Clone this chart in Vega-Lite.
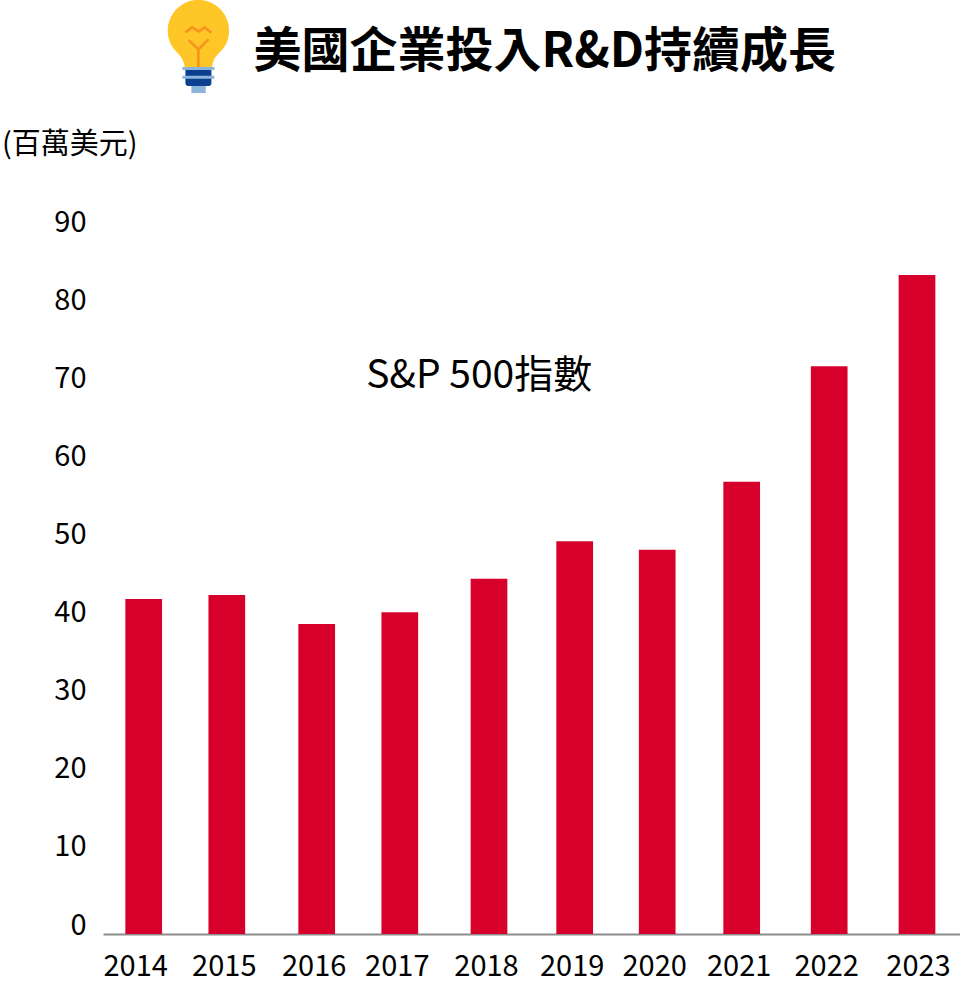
{
"$schema":"https://vega.github.io/schema/vega-lite/v6.json",
"width":857,"height":934,
"autosize":{"type":"none"},
"padding":{"left":103,"top":0,"right":0,"bottom":50},
"background":"white",
"config":{"view":{"stroke":null},"font":"Noto Sans CJK TC"},
"data":{"values":[
{"year":2014,"rd":42.9},{"year":2015,"rd":43.4},{"year":2016,"rd":39.7},{"year":2017,"rd":41.2},{"year":2018,"rd":45.5},{"year":2019,"rd":50.3},{"year":2020,"rd":49.2},{"year":2021,"rd":57.9},{"year":2022,"rd":72.7},{"year":2023,"rd":84.4}]},
"layer":[
{"mark":{"type":"bar","color":"#D7002A","size":36.7,"orient":"vertical"},
"encoding":{
"x":{"field":"year","type":"quantitative","title":null,
"scale":{"domain":[2013,2014,2015,2016,2017,2018,2019,2020,2021,2022,2023,2024],"range":[0,40.7,123.8,213.7,296.8,386,471.7,554.2,638.7,726.2,814,857],"nice":false,"zero":false},
"axis":{"values":[2014,2015,2016,2017,2018,2019,2020,2021,2022,2023],"format":"d","labelAngle":0,"labelFontSize":29,"labelColor":"#000000","labelFont":"Noto Sans CJK TC","labelPadding":18,"ticks":false,"domainColor":"#8c8c8c","domainWidth":2,"grid":false,"labelOverlap":false,"labelFlush":false,
"labelOffset":{"condition":[{"test":"datum.value==2014","value":-8.5},{"test":"datum.value==2023","value":1}],"value":-3}}},
"y":{"field":"rd","type":"quantitative",
"scale":{"domain":[0,119.6],"nice":false,"zero":true},
"axis":{"values":[0,10,20,30,40,50,60,70,80,90],"labelFontSize":29,"labelColor":"#000000","labelFont":"Noto Sans CJK TC","labelOffset":-9,"labelPadding":17,"ticks":false,"domain":false,"grid":false,
"title":"(百萬美元)","titleAngle":0,"titleAlign":"left","titleBaseline":"middle","titleX":-101.5,"titleY":144,"titleFontSize":29,"titleFontWeight":"normal","titleColor":"#000000","titleFont":"Noto Sans CJK TC"}}}},
{"data":{"values":[{"label":"S&P 500指數","year":2017.89,"rd":71.4}]},
"mark":{"type":"text","fontSize":39,"color":"#000000","align":"center","baseline":"middle"},
"encoding":{"x":{"field":"year","type":"quantitative"},"y":{"field":"rd","type":"quantitative"},"text":{"field":"label"}}},
{"data":{"values":[{"label":"美國企業投入R&D持續成長","year":2018.65,"rd":112.8}]},
"mark":{"type":"text","fontSize":48,"fontWeight":"bold","color":"#000000","align":"center","baseline":"middle"},
"encoding":{"x":{"field":"year","type":"quantitative"},"y":{"field":"rd","type":"quantitative"},"text":{"field":"label"}}},
{"data":{"values":[{"year":2014.65,"rd":113.7}]},
"layer":[
{"mark":{"type":"point","filled":true,"opacity":1,"size":4,"color":"#FFC627","shape":"M-13 21 C-14 13 -18 9 -23 4 A30.7 30.7 0 1 1 24.4 4 C19 9 15 13 14.4 21 Z"},
"encoding":{"x":{"field":"year","type":"quantitative"},"y":{"field":"rd","type":"quantitative"}}},
{"mark":{"type":"point","filled":false,"opacity":1,"size":4,"stroke":"#F7941D","strokeWidth":2.6,"fill":null,"shape":"M-12.3 -13.7 L-5.7 -18.7 L1 -14.7 L7 -18.7 L13.7 -13.3 M-9 -6 L0.7 3.3 L10.7 -6.7 M0.7 3.3 L0.7 21"},
"encoding":{"x":{"field":"year","type":"quantitative"},"y":{"field":"rd","type":"quantitative"}}},
{"mark":{"type":"point","filled":true,"opacity":1,"size":4,"color":"#8DB4DC","shape":"M-6.3 38 L8 38 L8 47 L-6.3 47 Z"},
"encoding":{"x":{"field":"year","type":"quantitative"},"y":{"field":"rd","type":"quantitative"}}},
{"mark":{"type":"point","filled":true,"opacity":1,"size":4,"color":"#0B3F8F","shape":"M-12.3 22 L13.7 22 L13.7 37 Q13.7 40 10.7 40 L-9.3 40 Q-12.3 40 -12.3 37 Z"},
"encoding":{"x":{"field":"year","type":"quantitative"},"y":{"field":"rd","type":"quantitative"}}},
{"mark":{"type":"point","filled":true,"opacity":1,"size":4,"color":"#8DB4DC","shape":"M-15.3 21 L16.7 21 L16.7 24 L-15.3 24 Z M-15.3 29.7 L16.7 29.7 L16.7 32.7 L-15.3 32.7 Z"},
"encoding":{"x":{"field":"year","type":"quantitative"},"y":{"field":"rd","type":"quantitative"}}}
]}
]
}
